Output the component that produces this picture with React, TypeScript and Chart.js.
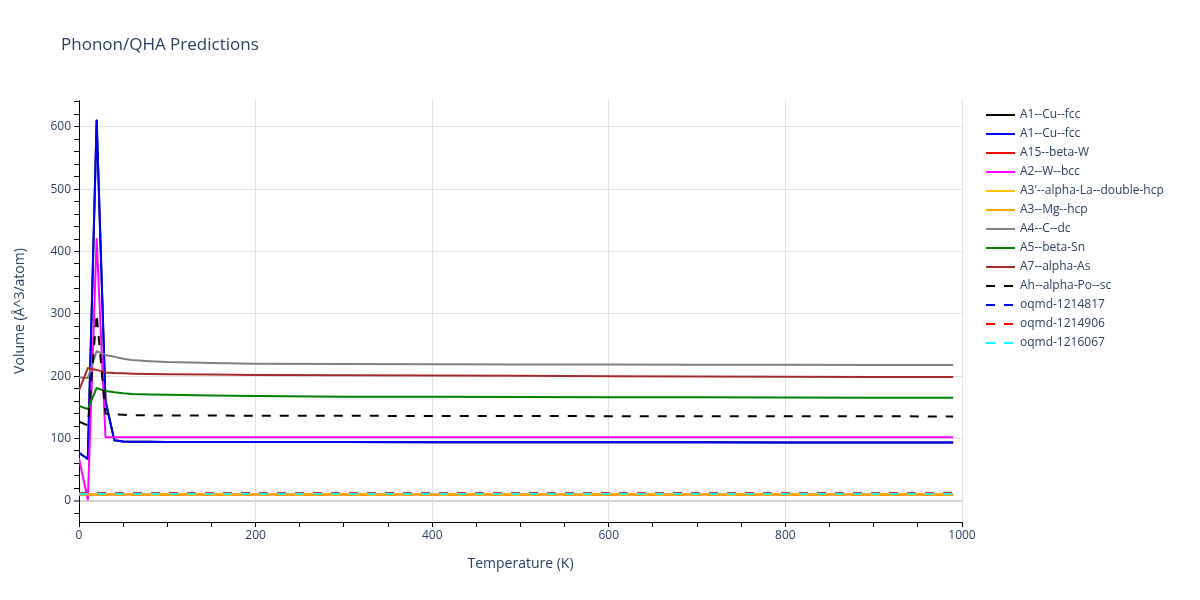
import React, { useEffect, useRef } from 'react';
import { Chart, registerables } from 'chart.js';

Chart.register(...registerables);

const temperatures = [0, 10, 20, 30, 40, 50, 60, 80, 100, 150, 200, 300, 400, 500, 600, 700, 800, 900, 990];

const seriesNames = [
  'A1--Cu--fcc',
  'A1--Cu--fcc',
  'A15--beta-W',
  'A2--W--bcc',
  "A3'--alpha-La--double-hcp",
  'A3--Mg--hcp',
  'A4--C--dc',
  'A5--beta-Sn',
  'A7--alpha-As',
  'Ah--alpha-Po--sc',
  'oqmd-1214817',
  'oqmd-1214906',
  'oqmd-1216067',
];

const seriesColors = [
  '#000000', '#0000ff', '#ff0000', '#ff00ff', '#ffc000', '#ffa500',
  '#808080', '#008000', '#a52a2a', '#000000', '#0000ff', '#ff0000', '#00ffff',
];

const seriesDashed = [false, false, false, false, false, false, false, false, false, true, true, true, true];

// Volume (Å^3/atom) values
const cuFccA = [77, 67, 610, 160, 97, 95, 94.8, 94.6, 94.5, 94.4, 94.3, 94.2, 94.1, 94.0, 93.9, 93.8, 93.7, 93.6, 93.5];
const cuFccB = [77, 67, 610, 160, 97, 95, 94.8, 94.6, 94.5, 94.4, 94.3, 94.2, 94.1, 94.0, 93.9, 93.8, 93.7, 93.6, 93.5];
const a15BetaW = [10.2, 10.2, 10.2, 10.2, 10.2, 10.2, 10.2, 10.2, 10.2, 10.2, 10.2, 10.2, 10.2, 10.2, 10.2, 10.2, 10.2, 10.2, 10.2];
const a2WBcc = [68, 2, 420, 102, 102, 102, 102, 102, 102, 102, 102, 102, 102, 102, 102, 102, 102, 102, 102];
const a3pLa = [10.2, 10.2, 10.2, 10.2, 10.2, 10.2, 10.2, 10.2, 10.2, 10.2, 10.2, 10.2, 10.2, 10.2, 10.2, 10.2, 10.2, 10.2, 10.2];
const a3MgHcp = [10, 10, 10, 10, 10, 10, 10, 10, 10, 10, 10, 10, 10, 10, 10, 10, 10, 10, 10];
const a4CDc = [198, 197, 240, 234, 231, 228, 226, 224, 222.5, 221, 220, 219.5, 219, 218.8, 218.6, 218.4, 218.2, 218, 218];
const a5BetaSn = [152, 147, 181, 176, 174, 172.5, 171.5, 170.5, 170, 169, 168, 167, 166.8, 166.5, 166.2, 166, 165.7, 165.4, 165.2];
const a7AlphaAs = [177, 213, 210, 206, 205, 204.5, 204, 203.5, 203, 202.5, 202, 201.5, 201, 200.5, 200, 199.6, 199.2, 198.8, 198.5];
const ahAlphaPo = [127, 121, 300, 140, 138.5, 138, 137.5, 137, 137, 136.8, 136.5, 136.3, 136.2, 136, 135.8, 135.7, 135.6, 135.5, 135.4];
const oqmd1214817 = [12.5, 12.5, 12.5, 12.5, 12.5, 12.5, 12.5, 12.5, 12.5, 12.5, 12.5, 12.5, 12.5, 12.5, 12.5, 12.5, 12.5, 12.5, 12.5];
const oqmd1214906 = [12.5, 12.5, 12.5, 12.5, 12.5, 12.5, 12.5, 12.5, 12.5, 12.5, 12.5, 12.5, 12.5, 12.5, 12.5, 12.5, 12.5, 12.5, 12.5];
const oqmd1216067 = [11.5, 11.5, 11.5, 11.5, 11.5, 11.5, 11.5, 11.5, 11.5, 11.5, 11.5, 11.5, 11.5, 11.5, 11.5, 11.5, 11.5, 11.5, 11.5];

const seriesValues = [
  cuFccA, cuFccB, a15BetaW, a2WBcc, a3pLa, a3MgHcp, a4CDc, a5BetaSn, a7AlphaAs,
  ahAlphaPo, oqmd1214817, oqmd1214906, oqmd1216067,
];

const xTickValues = [0, 50, 100, 150, 200, 250, 300, 350, 400, 450, 500, 550, 600, 650, 700, 750, 800, 850, 900, 950, 1000];
const yTickValues = [-20, 0, 20, 40, 60, 80, 100, 120, 140, 160, 180, 200, 220, 240, 260, 280, 300, 320, 340, 360, 380, 400, 420, 440, 460, 480, 500, 520, 540, 560, 580, 600, 620, 640];

const chartTitle = 'Phonon/QHA Predictions';
const xTitle = 'Temperature (K)';
const yTitle = 'Volume (Å^3/atom)';

const TEXT_COLOR = '#2a3f5f';
const FONT = '"Open Sans", Arial, sans-serif';
const DASH = [9, 9];

const overlayPlugin = {
  id: 'overlay',
  afterDraw(chart: any) {
    const ctx = chart.ctx as CanvasRenderingContext2D;
    ctx.save();
    // Title
    ctx.fillStyle = TEXT_COLOR;
    ctx.font = `17px ${FONT}`;
    ctx.textAlign = 'left';
    ctx.textBaseline = 'middle';
    ctx.fillText(chartTitle, 61, 45);
    // Legend
    ctx.font = `12px ${FONT}`;
    chart.data.datasets.forEach((ds: any, i: number) => {
      const y = 115 + 19 * i;
      ctx.beginPath();
      ctx.strokeStyle = ds.borderColor;
      ctx.lineWidth = 2;
      ctx.setLineDash(ds.borderDash && ds.borderDash.length ? ds.borderDash : []);
      ctx.moveTo(986, y);
      ctx.lineTo(1015, y);
      ctx.stroke();
      ctx.setLineDash([]);
      ctx.fillStyle = TEXT_COLOR;
      ctx.fillText(ds.label, 1020, y);
    });
    ctx.restore();
  },
};

export default function App() {
  const canvasRef = useRef<HTMLCanvasElement | null>(null);

  useEffect(() => {
    if (!canvasRef.current) return;
    const datasets = seriesNames.map((name, i) => ({
      label: name,
      data: temperatures.map((t, j) => ({ x: t, y: seriesValues[i][j] })),
      borderColor: seriesColors[i],
      backgroundColor: seriesColors[i],
      borderWidth: 2,
      borderDash: seriesDashed[i] ? DASH : [],
      borderJoinStyle: 'round',
      pointRadius: 0,
      tension: 0,
      fill: false,
      order: seriesNames.length - i,
    }));

    const chart = new Chart(canvasRef.current, {
      type: 'line',
      data: { datasets },
      plugins: [overlayPlugin],
      options: {
        animation: false,
        responsive: false,
        devicePixelRatio: 1,
        layout: { padding: { left: 0, right: 238, top: 100, bottom: 0 } },
        plugins: {
          legend: { display: false },
          title: { display: false },
          tooltip: { enabled: false },
        },
        scales: {
          x: {
            type: 'linear',
            min: 0,
            max: 1000,
            afterBuildTicks: (scale: any) => {
              scale.ticks = xTickValues.map((v) => ({ value: v }));
            },
            afterFit: (scale: any) => {
              scale.height = 78;
            },
            ticks: {
              autoSkip: false,
              maxRotation: 0,
              padding: 1,
              color: TEXT_COLOR,
              font: { family: FONT, size: 12 },
              callback: (v: any) => (Number(v) % 200 === 0 ? String(v) : ''),
            },
            grid: {
              color: (c: any) => (c.tick && c.tick.value % 200 === 0 && c.tick.value !== 0 ? '#e2e2e2' : 'rgba(0,0,0,0)'),
              lineWidth: 1,
              tickColor: '#000000',
              tickWidth: 1,
              tickLength: 5,
              drawTicks: true,
            },
            border: { display: true, color: '#000000', width: 1 },
            title: {
              display: true,
              text: xTitle,
              color: TEXT_COLOR,
              font: { family: FONT, size: 14 },
              padding: { top: 0, bottom: 28 },
            },
          },
          y: {
            type: 'linear',
            min: -34,
            max: 643,
            afterBuildTicks: (scale: any) => {
              scale.ticks = yTickValues.map((v) => ({ value: v }));
            },
            afterFit: (scale: any) => {
              scale.width = 79;
            },
            ticks: {
              autoSkip: false,
              padding: 3,
              color: TEXT_COLOR,
              font: { family: FONT, size: 12 },
              callback: (v: any) => (Number(v) % 100 === 0 ? String(v) : ''),
            },
            grid: {
              color: (c: any) => {
                if (!c.tick) return 'rgba(0,0,0,0)';
                if (c.tick.value === 0) return '#d4d4d4';
                return c.tick.value % 100 === 0 ? '#e2e2e2' : 'rgba(0,0,0,0)';
              },
              lineWidth: (c: any) => (c.tick && c.tick.value === 0 ? 2 : 1),
              tickColor: '#000000',
              tickWidth: 1,
              tickLength: 5,
              drawTicks: true,
            },
            border: { display: true, color: '#000000', width: 1 },
            title: {
              display: true,
              text: yTitle,
              color: TEXT_COLOR,
              font: { family: FONT, size: 14 },
              padding: { top: 12, bottom: 0 },
            },
          },
        },
      },
    } as any);

    return () => chart.destroy();
  }, []);

  return (
    <div style={{ position: 'absolute', left: 0, top: 0, width: 1200, height: 600, background: '#ffffff' }}>
      <canvas ref={canvasRef} width={1200} height={600} style={{ width: 1200, height: 600 }} />
    </div>
  );
}
